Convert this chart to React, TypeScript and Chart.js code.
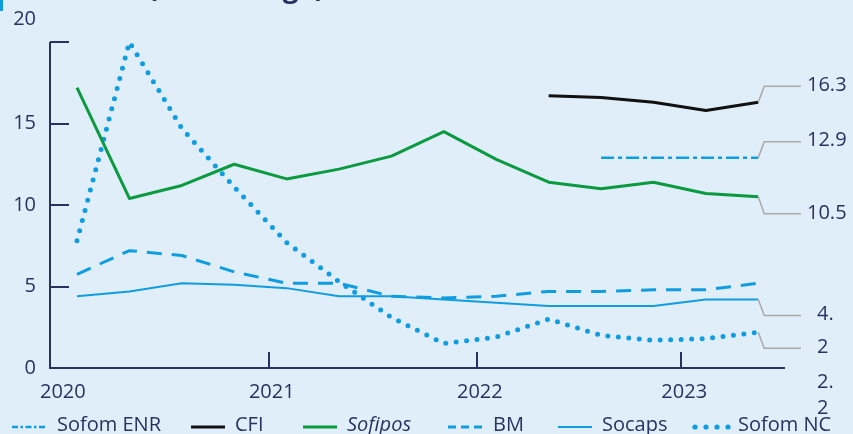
import { useEffect, useRef } from 'react';
import { Chart, registerables } from 'chart.js';

Chart.register(...registerables);

// Quarterly observations, 2020-T1 .. 2023-T2
const quarters = [
  '2020T1', '2020T2', '2020T3', '2020T4',
  '2021T1', '2021T2', '2021T3', '2021T4',
  '2022T1', '2022T2', '2022T3', '2022T4',
  '2023T1', '2023T2',
];

const yearLabels = ['2020', '2021', '2022', '2023'];
const yTickValues = [0, 5, 10, 15, 20];

// Series values (%)
const sofomENR = [null, null, null, null, null, null, null, null, null, null, 12.9, 12.9, 12.9, 12.9];
const cfi = [null, null, null, null, null, null, null, null, null, 16.7, 16.6, 16.3, 15.8, 16.3];
const sofipos = [17.2, 10.4, 11.2, 12.5, 11.6, 12.2, 13.0, 14.5, 12.8, 11.4, 11.0, 11.4, 10.7, 10.5];
const bm = [5.75, 7.2, 6.9, 5.9, 5.2, 5.2, 4.4, 4.3, 4.4, 4.7, 4.7, 4.8, 4.8, 5.2];
const socaps = [4.4, 4.7, 5.2, 5.1, 4.9, 4.4, 4.4, 4.2, 4.0, 3.8, 3.8, 3.8, 4.2, 4.2];
const sofomNC = [7.8, 20.0, 14.7, 11.1, 7.7, 5.3, 3.1, 1.5, 1.9, 3.0, 2.0, 1.7, 1.8, 2.2];

// End-of-line value labels (null = no label), in dataset order
const endLabels = ['12.9', '16.3', '10.5', null, '4.', '2'];
const strayLabels = ['2.', '2'];

const NAVY = '#29325f';
const BLUE = '#109de0';
const GREEN = '#0b9a40';
const FONT = "'Open Sans', 'Noto Sans', sans-serif";

// where each year tick sits on the quarter index axis
const yearTickAt = [-0.515, 3.66, 7.63, 11.53];

const toPoints = (arr: (number | null)[]) => arr.map((v, i) => ({ x: i, y: v }));

type Style = {
  color: string;
  width: number;
  dash: number[];
  cap: CanvasLineCap;
  italic?: boolean;
};

const styles: Style[] = [
  { color: BLUE, width: 2.5, dash: [13, 4, 4, 4], cap: 'butt' },
  { color: '#111111', width: 3, dash: [], cap: 'butt' },
  { color: GREEN, width: 3, dash: [], cap: 'butt', italic: true },
  { color: BLUE, width: 3, dash: [15, 10], cap: 'butt' },
  { color: BLUE, width: 2, dash: [], cap: 'butt' },
  { color: BLUE, width: 5, dash: [0, 10.5], cap: 'round' },
];

const seriesNames = ['Sofom ENR', 'CFI', 'Sofipos', 'BM', 'Socaps', 'Sofom NC'];
const seriesValues = [sofomENR, cfi, sofipos, bm, socaps, sofomNC];

// legend layout: sample start, text start
const legendSlots = [
  [12, 57], [191, 235], [303, 347], [448, 493], [558, 602], [692, 738],
];
// vertical offset of each end label from its line's last point
const labelOffsets = [-16, -16, 17, 0, 16, 16];

const decorations = {
  id: 'decorations',
  beforeDatasetsDraw(chart: any) {
    const { ctx, chartArea, scales } = chart;
    const xs = scales.x;
    const ys = scales.y;
    const x0 = chartArea.left;
    const y0 = ys.getPixelForValue(0);
    const yTop = ys.getPixelForValue(20);
    ctx.save();

    // heading, mostly above the top edge
    ctx.fillStyle = BLUE;
    ctx.fillRect(0, 0, 3, 11);
    ctx.fillStyle = NAVY;
    ctx.font = `bold 28px ${FONT}`;
    ctx.textAlign = 'left';
    ctx.textBaseline = 'alphabetic';
    ctx.fillText('(Percentage)', 148, -3);

    // axes
    ctx.strokeStyle = NAVY;
    ctx.lineWidth = 2;
    ctx.beginPath();
    ctx.moveTo(x0, yTop);
    ctx.lineTo(x0, y0);
    ctx.lineTo(chartArea.right, y0);
    yTickValues.forEach((v) => {
      if (v === 0) return;
      const y = Math.round(ys.getPixelForValue(v));
      ctx.moveTo(x0, y);
      ctx.lineTo(x0 + 19, y);
    });
    yearTickAt.forEach((v, k) => {
      if (k === 0) return;
      const x = Math.round(xs.getPixelForValue(v));
      ctx.moveTo(x, y0);
      ctx.lineTo(x, y0 - 16);
    });
    ctx.stroke();

    // tick labels
    ctx.fillStyle = NAVY;
    ctx.font = `20px ${FONT}`;
    ctx.textAlign = 'right';
    ctx.textBaseline = 'middle';
    yTickValues.forEach((v) => {
      const y = v === 20 ? yTop - 23 : ys.getPixelForValue(v);
      ctx.fillText(String(v), 36, y);
    });
    yearLabels.forEach((lab, k) => {
      const x = xs.getPixelForValue(yearTickAt[k]);
      if (k === 0) {
        ctx.textAlign = 'left';
        ctx.fillText(lab, x - 10, y0 + 24);
      } else {
        ctx.textAlign = 'center';
        ctx.fillText(lab, x + 3, y0 + 24);
      }
    });
    ctx.restore();
  },
  afterDatasetsDraw(chart: any) {
    const { ctx } = chart;
    ctx.save();

    // leader lines and end labels
    ctx.font = `20px ${FONT}`;
    ctx.textBaseline = 'middle';
    ctx.textAlign = 'left';
    chart.data.datasets.forEach((ds: any, i: number) => {
      const lab = endLabels[i];
      if (!lab) return;
      const meta = chart.getDatasetMeta(i);
      const pt = meta.data[meta.data.length - 1];
      const px = pt.x;
      const py = pt.y;
      const ly = py + labelOffsets[i];
      ctx.strokeStyle = '#a9a9a9';
      ctx.lineWidth = 1.5;
      ctx.setLineDash([]);
      ctx.beginPath();
      ctx.moveTo(px, py);
      ctx.lineTo(px + 6, ly);
      ctx.lineTo(801, ly);
      ctx.stroke();
      ctx.fillStyle = NAVY;
      ctx.fillText(lab, lab.length > 2 ? 807 : 817, ly - 1);
    });

    // legend
    const ly = 427;
    seriesNames.forEach((name, i) => {
      const st = styles[i];
      const [sx, tx] = legendSlots[i];
      ctx.strokeStyle = st.color;
      ctx.lineCap = st.cap;
      if (i === 5) {
        ctx.fillStyle = st.color;
        for (let k = 0; k < 4; k++) {
          ctx.beginPath();
          ctx.arc(sx + 3 + k * 11, ly, 2.6, 0, Math.PI * 2);
          ctx.fill();
        }
      } else {
        ctx.lineWidth = st.width;
        ctx.setLineDash(i === 0 ? [6, 2.5, 2.5, 2.5] : i === 3 ? [8, 5] : []);
        ctx.beginPath();
        ctx.moveTo(sx, ly);
        ctx.lineTo(sx + 34, ly);
        ctx.stroke();
        ctx.setLineDash([]);
      }
      ctx.fillStyle = NAVY;
      ctx.font = `${st.italic ? 'italic ' : ''}20px ${FONT}`;
      ctx.textAlign = 'left';
      ctx.textBaseline = 'alphabetic';
      ctx.fillText(name, tx, 431);
    });

    // trailing labels below the plot
    ctx.font = `20px ${FONT}`;
    ctx.textBaseline = 'middle';
    ctx.fillStyle = NAVY;
    ctx.fillText(strayLabels[0], 817, 382);
    ctx.fillText(strayLabels[1], 817, 408);
    ctx.restore();
  },
};

export default function App() {
  const canvasRef = useRef<HTMLCanvasElement | null>(null);

  useEffect(() => {
    document.body.style.margin = '0';
    const canvas = canvasRef.current;
    if (!canvas) return;
    const chart = new Chart(canvas, {
      type: 'line',
      data: {
        labels: quarters,
        datasets: seriesNames.map((name, i) => ({
          label: name,
          data: toPoints(seriesValues[i]),
          borderColor: styles[i].color,
          borderWidth: styles[i].width,
          borderDash: styles[i].dash,
          borderCapStyle: styles[i].cap,
          borderJoinStyle: 'round',
          pointRadius: 0,
          tension: 0,
          fill: false,
          spanGaps: false,
        })),
      },
      options: {
        animation: false,
        responsive: false,
        layout: { padding: { left: 50, top: 42, right: 68, bottom: 66 } },
        plugins: {
          legend: { display: false },
          tooltip: { enabled: false },
        },
        scales: {
          x: { type: 'linear', min: -0.515, max: 13.51, display: false },
          y: { type: 'linear', min: 0, max: 20, display: false },
        },
      },
      plugins: [decorations],
    } as any);
    return () => chart.destroy();
  }, []);

  return (
    <div style={{ width: 853, height: 434, background: '#e0eefa', position: 'relative' }}>
      <canvas ref={canvasRef} width={853} height={434} style={{ display: 'block' }} />
    </div>
  );
}
